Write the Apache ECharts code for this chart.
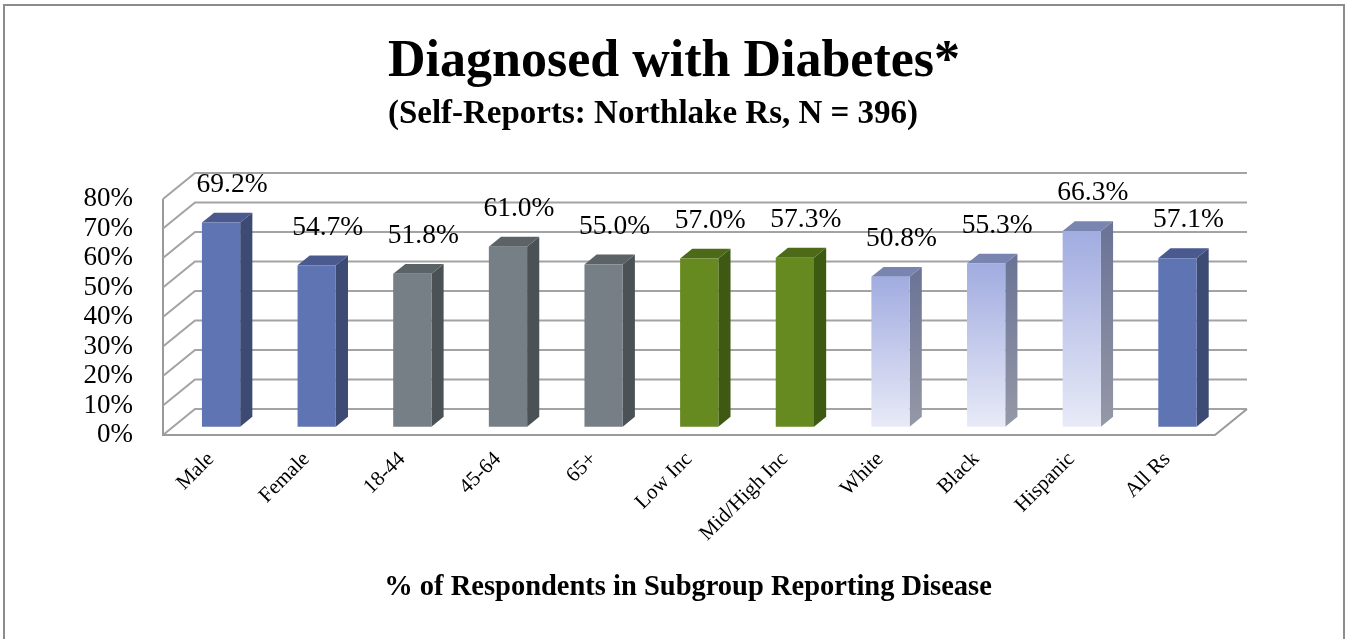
<!DOCTYPE html>
<html>
<head>
<meta charset="utf-8">
<script src="https://cdn.jsdelivr.net/npm/echarts@6/dist/echarts.min.js"></script>
<style>
html,body{margin:0;padding:0;background:#fff;}
#chart{width:1350px;height:639px;}
</style>
</head>
<body>
<div id="chart"></div>
<script>
// ---- data ----
const categories = ['Male','Female','18-44','45-64','65+','Low Inc','Mid/High Inc','White','Black','Hispanic','All Rs'];
const values = [69.2, 54.7, 51.8, 61.0, 55.0, 57.0, 57.3, 50.8, 55.3, 66.3, 57.1];
const groups = ['sex','sex','age','age','age','income','income','race','race','race','all'];
const yTicks = [0, 10, 20, 30, 40, 50, 60, 70, 80];
const titleText = 'Diagnosed with Diabetes*';
const subtitleText = '(Self-Reports: Northlake Rs, N = 396)';
const xTitleText = '% of Respondents in Subgroup Reporting Disease';

// ---- styles ----
const SERIF = '"Liberation Serif", "DejaVu Serif", serif';
const palette = {
  sex:    {front:'#5f75b3', side:'#3d4a74', top:'#4a5a8f'},
  all:    {front:'#5f75b3', side:'#3d4a74', top:'#4a5a8f'},
  age:    {front:'#777f86', side:'#4b5255', top:'#5b6367'},
  income: {front:'#668a20', side:'#3e5912', top:'#4c6a17'},
  race:   {
    front:{type:'linear',x:0,y:0,x2:0,y2:1,colorStops:[{offset:0,color:'#a1ace0'},{offset:1,color:'#e8eaf7'}]},
    side:{type:'linear',x:0,y:0,x2:0,y2:1,colorStops:[{offset:0,color:'#6a7396'},{offset:1,color:'#9598a6'}]},
    top:'#7a84b0'
  }
};
const DEPTH_X = 32, DEPTH_Y = -26;      // back-wall offset
const BAR_POS = 0.32, BAR_DEPTH = 0.38; // bar placement in depth
const BAR_FRAC = 0.40;
const GRID_COLOR = '#a3a3a3';

const chart = echarts.init(document.getElementById('chart'), null, {renderer:'canvas'});

function frameItem(params, api) {
  const cs = params.coordSys;
  const v = api.value(1);
  const y = api.coord([0, v])[1];
  const x0 = cs.x, x1 = cs.x + cs.width;
  const children = [{
    type:'polyline',
    shape:{points:[[x0, y],[x0 + DEPTH_X, y + DEPTH_Y],[x1 + DEPTH_X, y + DEPTH_Y]]},
    style:{stroke:GRID_COLOR, lineWidth:2, fill:null}
  }];
  if (v === yTicks[0]) {
    const yTop = api.coord([0, yTicks[yTicks.length - 1]])[1];
    children.push({
      type:'polyline',
      shape:{points:[[x0, yTop],[x0, y],[x1, y],[x1 + DEPTH_X, y + DEPTH_Y]]},
      style:{stroke:'#9a9a9a', lineWidth:2, fill:null}
    });
  }
  return {type:'group', children};
}

function barItem(params, api) {
  const i = api.value(0), v = api.value(1);
  const base = api.coord([i, 0]);
  const top = api.coord([i, v]);
  const bw = api.size([1, 0])[0] * BAR_FRAC;
  const ox = DEPTH_X * BAR_POS, oy = DEPTH_Y * BAR_POS;
  const dx = DEPTH_X * BAR_DEPTH, dy = DEPTH_Y * BAR_DEPTH;
  const xl = base[0] - bw / 2 + ox, xr = xl + bw;
  const yb = base[1] + oy, yt = top[1] + oy;
  const pal = palette[groups[i]];
  return {
    type:'group',
    children:[
      {type:'polygon', shape:{points:[[xr, yt],[xr + dx, yt + dy],[xr + dx, yb + dy],[xr, yb]]}, style:{fill:pal.side}},
      {type:'polygon', shape:{points:[[xl, yt],[xl + dx, yt + dy],[xr + dx, yt + dy],[xr, yt]]}, style:{fill:pal.top}},
      {type:'rect', shape:{x:xl, y:yt, width:bw, height:yb - yt}, style:{fill:pal.front}},
      {type:'text', x:(xl + xr) / 2 + 11, y:yt - 38,
        style:{text:v.toFixed(1) + '%', font:'27.5px ' + SERIF, fill:'#000', align:'center', verticalAlign:'middle'}}
    ]
  };
}

const option = {
  backgroundColor:'#fff',
  animation:false,
  grid:{left:163, right:135, top:199, bottom:204, containLabel:false},
  xAxis:{
    type:'category', data:categories, boundaryGap:true,
    axisLine:{show:false}, axisTick:{show:false}, splitLine:{show:false},
    axisLabel:{rotate:45, margin:21, color:'#000', fontSize:21, fontFamily:SERIF, interval:0}
  },
  yAxis:{
    type:'value', min:0, max:80, interval:10,
    axisLine:{show:false}, axisTick:{show:false}, splitLine:{show:false},
    axisLabel:{formatter:'{value}%', margin:30, color:'#000', fontSize:27, fontFamily:SERIF}
  },
  graphic:[
    {type:'rect', shape:{x:4, y:5, width:1340, height:700}, style:{fill:null, stroke:'#8c8c8c', lineWidth:2}, z:-10, silent:true},
    {type:'text', x:674, y:63, style:{text:titleText, font:'bold 52px ' + SERIF, fill:'#000', align:'center', verticalAlign:'middle'}},
    {type:'text', x:653, y:114, style:{text:subtitleText, font:'bold 33px ' + SERIF, fill:'#000', align:'center', verticalAlign:'middle'}},
    {type:'text', x:688, y:588, style:{text:xTitleText, font:'bold 28.5px ' + SERIF, fill:'#000', align:'center', verticalAlign:'middle'}}
  ],
  series:[
    {type:'custom', name:'frame', renderItem:frameItem, data:yTicks.map(t => [0, t]), z:1, silent:true},
    {type:'custom', name:'bars', renderItem:barItem, data:values.map((v, i) => [i, v]), z:2}
  ]
};
chart.setOption(option);
</script>
</body>
</html>
